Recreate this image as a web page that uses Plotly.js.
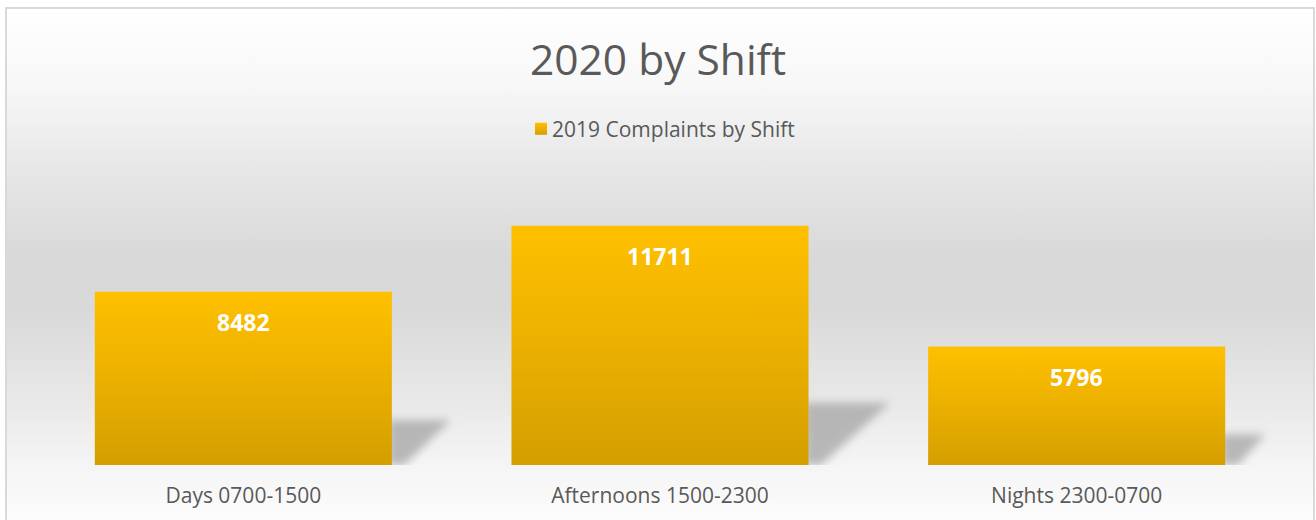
<!DOCTYPE html>
<html><head><meta charset="utf-8">
<script src="https://cdn.plot.ly/plotly-3.0.1.min.js"></script>
<style>
html,body{margin:0;padding:0;width:1316px;height:520px;overflow:hidden;background:#ffffff}
#bg{position:absolute;left:5px;top:7px;width:1306px;height:520px;border:2px solid #d9d9d9;border-bottom:none;
background:linear-gradient(to bottom,#ffffff 0%,#f7f7f7 15%,#e8e8e8 30%,#d8d8d8 48%,#d9d9d9 58%,#e8e8e8 75%,#f5f5f5 88%,#fdfdfd 100%);}
#chart{position:absolute;left:0;top:0;width:1316px;height:520px}
</style></head><body>
<div id="bg"></div><div id="chart"></div>
<script>
const chartTitle = "2020 by Shift";
const seriesName = "2019 Complaints by Shift";
const categories = ["Days 0700-1500", "Afternoons 1500-2300", "Nights 2300-0700"];
const values = [8482, 11711, 5796];

const idx = categories.map((c, i) => i);
const halfW = 0.3565;
const textColor = "#595959";

const shapes = values.map((v, i) => {
  const x0 = i + halfW - 0.01;
  const top = 0.26 * v;
  const x1 = i + halfW + v * 1.67e-5;
  return {
    type: "path", xref: "x", yref: "y", layer: "below",
    path: `M${x0},0 L${x0},${top} L${x1},${top} L${i + halfW + 0.03},0 Z`,
    fillcolor: "#a4a4a4", opacity: 0.75, line: {width: 0}
  };
});

const annotations = values.map((v, i) => ({
  x: i, y: v, xref: "x", yref: "y", text: String(v), showarrow: false,
  yanchor: "middle", yshift: -30,
  font: {family: "Open Sans", size: 23, color: "#ffffff", weight: 700}
}));

const data = [{
  type: "bar", x: idx, y: values, name: seriesName, showlegend: true,
  marker: {color: "#F0B400", line: {width: 0}},
  hoverinfo: "skip"
}];

const layout = {
  width: 1316, height: 520,
  paper_bgcolor: "rgba(0,0,0,0)", plot_bgcolor: "rgba(0,0,0,0)",
  margin: {l: 35, r: 31, t: 179, b: 55},
  bargap: 0.287,
  title: {text: chartTitle, x: 0.5, xanchor: "center", y: 1 - 60/520, yanchor: "middle",
    font: {family: "Open Sans", size: 42.5, color: textColor}},
  showlegend: true,
  legend: {orientation: "h", x: 0.5 - 2/1316, xanchor: "center", xref: "container",
    y: 1 - 129/520, yanchor: "middle", yref: "container",
    font: {family: "Open Sans", size: 21, color: textColor}, bgcolor: "rgba(0,0,0,0)"},
  xaxis: {range: [-0.5, 2.5], tickvals: idx, ticktext: categories, showgrid: false, zeroline: false,
    showline: false, ticks: "", ticklabelstandoff: 16,
    tickfont: {family: "Open Sans", size: 21, color: textColor}, fixedrange: true},
  yaxis: {range: [0, 14000], visible: false, fixedrange: true},
  shapes: shapes,
  annotations: annotations
};

Plotly.newPlot("chart", data, layout, {staticPlot: true, displayModeBar: false}).then(gd => {
  const NS = "http://www.w3.org/2000/svg";
  const svg = gd.querySelector("svg.main-svg");
  let defs = svg.querySelector("defs");
  if (!defs) { defs = document.createElementNS(NS, "defs"); svg.insertBefore(defs, svg.firstChild); }
  const lg = document.createElementNS(NS, "linearGradient");
  lg.setAttribute("id", "barGrad");
  lg.setAttribute("x1", "0"); lg.setAttribute("y1", "0"); lg.setAttribute("x2", "0"); lg.setAttribute("y2", "1");
  [["0%", "#FFC000"], ["45%", "#EDB200"], ["100%", "#D49E00"]].forEach(([o, c]) => {
    const s = document.createElementNS(NS, "stop");
    s.setAttribute("offset", o); s.setAttribute("stop-color", c);
    lg.appendChild(s);
  });
  defs.appendChild(lg);
  const f = document.createElementNS(NS, "filter");
  f.setAttribute("id", "shadowBlur");
  f.setAttribute("x", "-50%"); f.setAttribute("y", "-50%"); f.setAttribute("width", "200%"); f.setAttribute("height", "200%");
  const b = document.createElementNS(NS, "feGaussianBlur");
  b.setAttribute("stdDeviation", "4");
  f.appendChild(b);
  defs.appendChild(f);
  gd.querySelectorAll(".barlayer .point path, .legendpoints path").forEach(p => { p.style.fill = "url(#barGrad)"; });
  gd.querySelectorAll(".shapelayer path").forEach(p => { p.setAttribute("filter", "url(#shadowBlur)"); p.style.filter = "url(#shadowBlur)"; });
  gd.querySelectorAll(".legendpoints").forEach(g => g.setAttribute("transform", "translate(9,0)"));
});
</script>
</body></html>
